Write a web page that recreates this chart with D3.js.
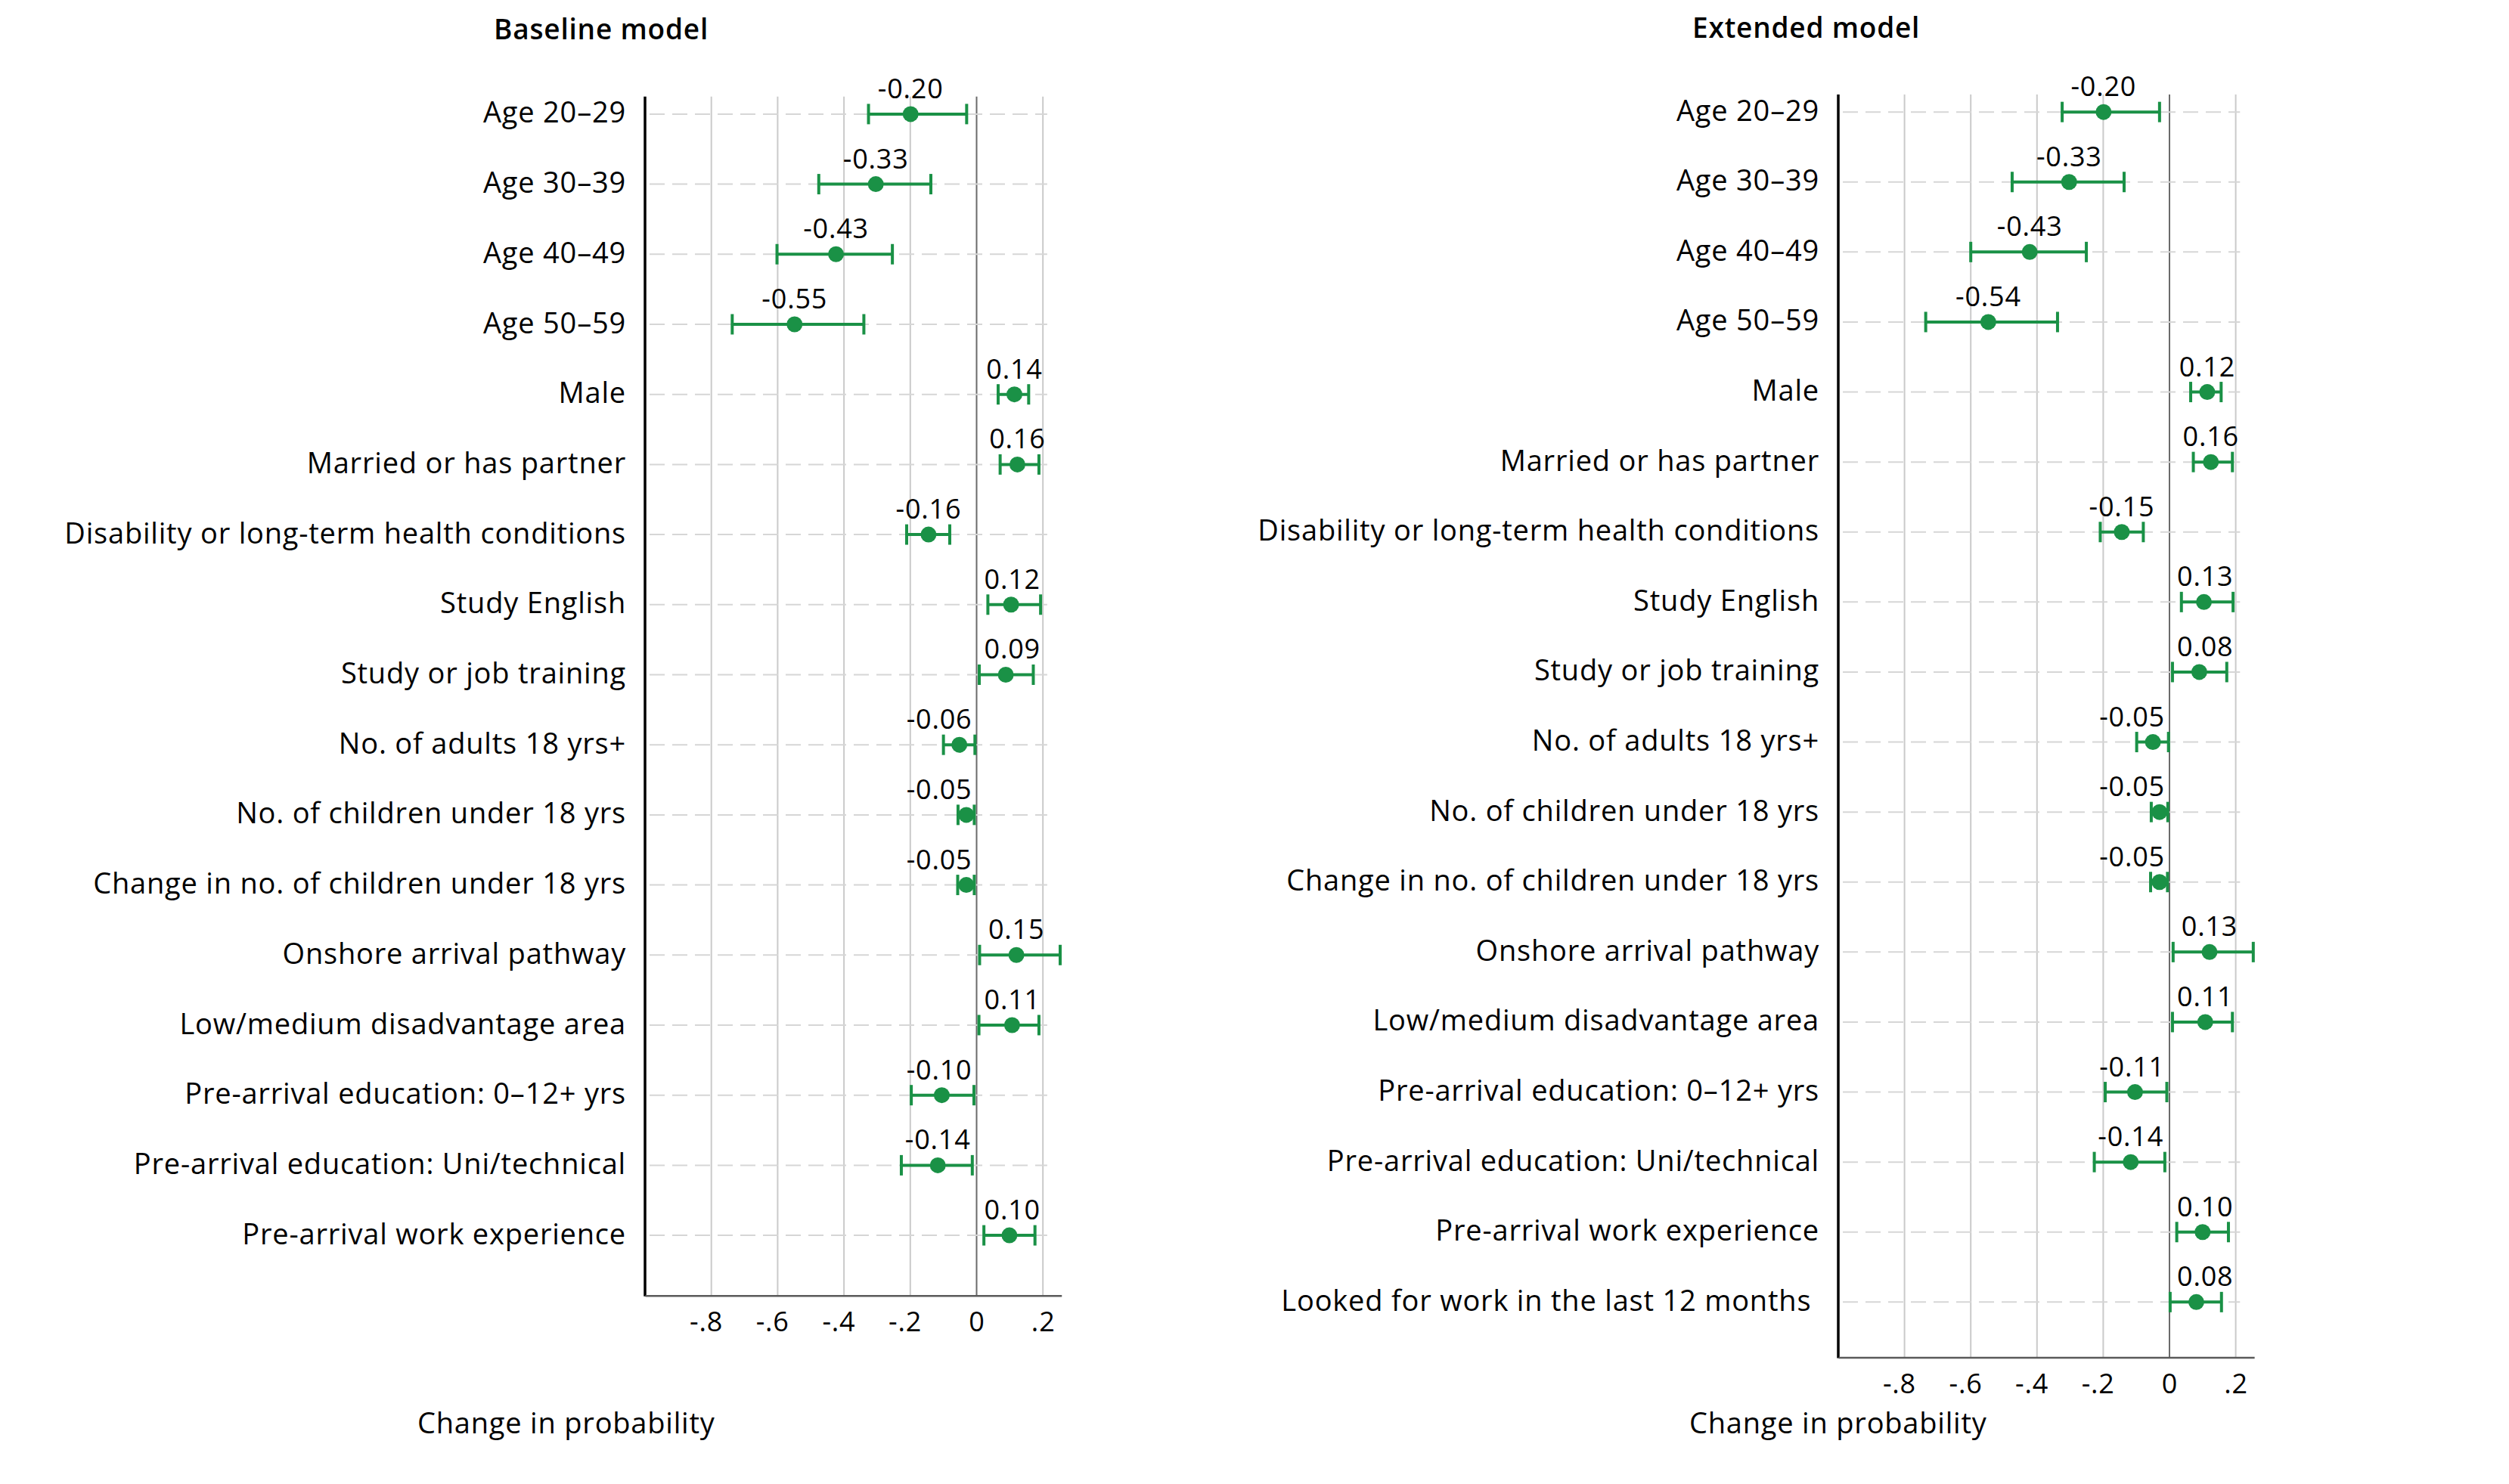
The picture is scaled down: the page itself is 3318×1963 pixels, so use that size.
<!DOCTYPE html>
<html>
<head>
<meta charset="utf-8">
<script src="https://cdn.jsdelivr.net/npm/d3@7"></script>
<style>
  body { margin: 0; background: #fff; }
  svg text { font-family: "Open Sans", sans-serif; fill: #000; letter-spacing: 0.8px; white-space: pre; }
</style>
</head>
<body>
<svg id="chart"></svg>
<script>
// categories shared by both models (extended adds one more row)
const baseCategories = [
    "Age 20–29", "Age 30–39", "Age 40–49", "Age 50–59", "Male",
    "Married or has partner", "Disability or long-term health conditions",
    "Study English", "Study or job training", "No. of adults 18 yrs+",
    "No. of children under 18 yrs", "Change in no. of children under 18 yrs",
    "Onshore arrival pathway", "Low/medium disadvantage area",
    "Pre-arrival education: 0–12+ yrs", "Pre-arrival education: Uni/technical",
    "Pre-arrival work experience"
];
const extCategories = baseCategories.concat(["Looked for work in the last 12 months "]);

// baseline model
const baseEstimates = [-0.199, -0.304, -0.424, -0.549, 0.114, 0.123, -0.145, 0.104, 0.088, -0.052, -0.031, -0.031, 0.120, 0.107, -0.105, -0.117, 0.099];
const baseLower     = [-0.326, -0.476, -0.602, -0.737, 0.065, 0.071, -0.211, 0.034, 0.008, -0.100, -0.056, -0.057, 0.009, 0.007, -0.197, -0.227, 0.022];
const baseUpper     = [-0.030, -0.138, -0.254, -0.340, 0.157, 0.188, -0.081, 0.193, 0.171, -0.005, -0.007, -0.007, 0.252, 0.188, -0.008, -0.013, 0.176];
const baseLabels    = ["-0.20", "-0.33", "-0.43", "-0.55", "0.14", "0.16", "-0.16", "0.12", "0.09", "-0.06", "-0.05", "-0.05", "0.15", "0.11", "-0.10", "-0.14", "0.10"];

// extended model
const extEstimates = [-0.199, -0.303, -0.422, -0.547, 0.114, 0.125, -0.144, 0.104, 0.090, -0.050, -0.030, -0.030, 0.121, 0.108, -0.104, -0.117, 0.100, 0.081];
const extLower     = [-0.324, -0.475, -0.600, -0.736, 0.064, 0.072, -0.209, 0.036, 0.009, -0.099, -0.055, -0.057, 0.011, 0.009, -0.194, -0.227, 0.022, 0.002];
const extUpper     = [-0.030, -0.137, -0.251, -0.338, 0.156, 0.190, -0.079, 0.192, 0.173, -0.003, -0.005, -0.006, 0.253, 0.190, -0.008, -0.014, 0.178, 0.157];
const extLabels    = ["-0.20", "-0.33", "-0.43", "-0.54", "0.12", "0.16", "-0.15", "0.13", "0.08", "-0.05", "-0.05", "-0.05", "0.13", "0.11", "-0.11", "-0.14", "0.10", "0.08"];

const xTicks = [-0.8, -0.6, -0.4, -0.2, 0, 0.2];
const xTickLabels = ["-.8", "-.6", "-.4", "-.2", "0", ".2"];
const xTitle = "Change in probability";

const GREEN = "#1a9146";

class CoefPlot {

    constructor(svg, layout) {
        this.svg = svg;
        this.layout = layout;
    }

    draw(title, categories, est, lower, upper, labels) {
        const L = this.layout;
        const n = categories.length;
        const rows = categories.map((c, i) => ({
            pos: i + 1, est: est[i], lo: lower[i], hi: upper[i], label: labels[i]
        }));

        const x = d3.scaleLinear().domain([-1, 0.256]).range([L.left, L.left + 1.256 * L.unit]);
        const yMax = n + L.bottomPad;
        const y = d3.scaleLinear().domain([0.75, yMax]).range([L.top, L.top + (yMax - 0.75) * L.step]);
        const bottom = y(yMax);

        const g = this.svg.append("g");

        // panel title
        g.append("text")
            .attr("x", L.titleX).attr("y", L.titleY)
            .style("font-size", "37px").style("font-weight", 600)
            .text(title);

        // vertical grid
        g.selectAll(".vgrid")
            .data(xTicks)
            .join("line")
            .attr("x1", d => x(d)).attr("x2", d => x(d))
            .attr("y1", L.top).attr("y2", bottom)
            .attr("stroke", d => d === 0 ? "#6a6a6a" : "#cacaca")
            .attr("stroke-width", 2);

        // dashed row lines
        g.selectAll(".hgrid")
            .data(rows)
            .join("line")
            .attr("x1", x(-1) + 6).attr("x2", x(0.213))
            .attr("y1", d => y(d.pos)).attr("y2", d => y(d.pos))
            .attr("stroke", "#d6d6d6")
            .attr("stroke-width", 2)
            .attr("stroke-dasharray", "20,10");

        // confidence intervals
        g.selectAll(".ci")
            .data(rows)
            .join("line")
            .attr("x1", d => x(d.lo)).attr("x2", d => x(d.hi))
            .attr("y1", d => y(d.pos)).attr("y2", d => y(d.pos))
            .attr("stroke", GREEN).attr("stroke-width", 4);

        ["lo", "hi"].forEach(k => {
            g.selectAll(".cap-" + k)
                .data(rows)
                .join("line")
                .attr("x1", d => x(d[k])).attr("x2", d => x(d[k]))
                .attr("y1", d => y(d.pos) - 13.5).attr("y2", d => y(d.pos) + 13.5)
                .attr("stroke", GREEN).attr("stroke-width", 4);
        });

        g.selectAll(".dot")
            .data(rows)
            .join("circle")
            .attr("cx", d => x(d.est))
            .attr("cy", d => y(d.pos))
            .attr("r", 10.5)
            .attr("fill", GREEN);

        // value labels: centred on the dot, kept off the zero line
        const zero = x(0);
        g.selectAll(".vlab")
            .data(rows)
            .join("text")
            .attr("y", d => y(d.pos) - 21)
            .style("font-size", "36px")
            .text(d => d.label)
            .each(function(d) {
                const w = this.getComputedTextLength();
                let left = x(d.est) - w / 2;
                if (d.est < 0 && left + w > zero - 6) left = zero - 6 - w;
                if (d.est > 0 && left < zero + 10) left = zero + 10;
                d3.select(this).attr("x", left);
            });

        // y axis (category labels)
        const yAxis = g.append("g")
            .attr("transform", `translate(${L.left},0)`)
            .call(d3.axisLeft(y)
                .tickValues(rows.map(d => d.pos))
                .tickFormat(p => categories[p - 1])
                .tickSize(0).tickPadding(25));
        yAxis.select(".domain").remove();
        yAxis.selectAll("text")
            .attr("dy", "0.29em")
            .style("font-size", "38px")
            .style("font-family", "'Open Sans', sans-serif");

        g.append("line")
            .attr("x1", L.left).attr("x2", L.left)
            .attr("y1", L.top).attr("y2", bottom + 1)
            .attr("stroke", "#000").attr("stroke-width", 3.5);

        // x axis
        const xAxis = g.append("g")
            .attr("transform", `translate(0,${bottom})`)
            .call(d3.axisBottom(x)
                .tickValues(xTicks)
                .tickFormat((d, i) => xTickLabels[i])
                .tickSize(0).tickSizeOuter(0).tickPadding(22));
        xAxis.select(".domain")
            .attr("stroke", "#5a5a5a").attr("stroke-width", 2.5);
        xAxis.selectAll("text")
            .attr("dx", d => d < 0 ? "-0.2em" : 0)
            .style("font-size", "36px")
            .style("font-family", "'Open Sans', sans-serif");

        g.append("text")
            .attr("x", L.xTitleX).attr("y", 1896)
            .style("font-size", "38px")
            .text(xTitle);
    }
}

const svg = d3.select("#chart")
    .attr("width", 3318)
    .attr("height", 1963);

svg.append("rect").attr("width", 3318).attr("height", 1963).attr("fill", "#fff");

new CoefPlot(svg, {
    left: 853, unit: 438.5, top: 127.7, step: 92.7, bottomPad: 0.86,
    titleX: 653, titleY: 52, xTitleX: 552
}).draw("Baseline model", baseCategories, baseEstimates, baseLower, baseUpper, baseLabels);

new CoefPlot(svg, {
    left: 2431, unit: 438, top: 125, step: 92.6, bottomPad: 0.79,
    titleX: 2238, titleY: 50, xTitleX: 2234
}).draw("Extended model", extCategories, extEstimates, extLower, extUpper, extLabels);
</script>
</body>
</html>
